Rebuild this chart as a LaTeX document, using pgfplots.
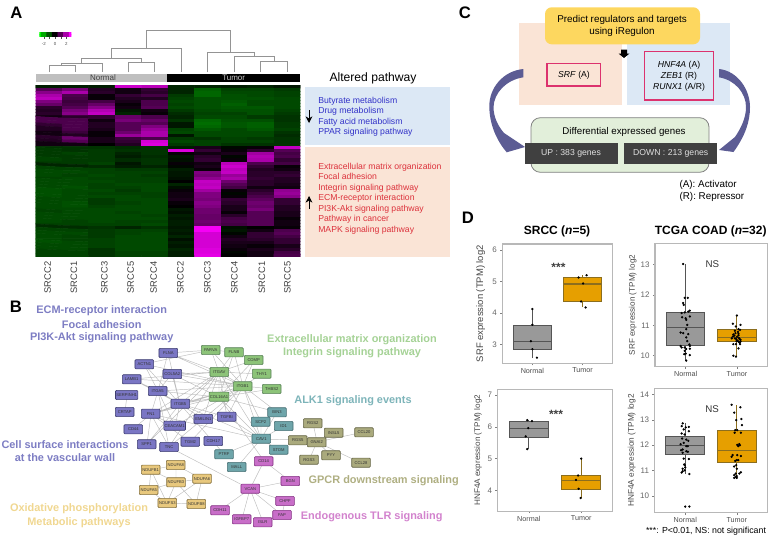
\documentclass[border=0pt]{standalone}
\usepackage{fontspec}
\setmainfont{Liberation Sans}
\usepackage{pgfplots}
\pgfplotsset{compat=1.18}
\usepgfplotslibrary{statistics}
\usetikzlibrary{arrows.meta}
\definecolor{cPurple}{RGB}{122,118,196}\definecolor{dPurple}{RGB}{60,60,110}
\definecolor{cGreen}{RGB}{140,195,120}\definecolor{dGreen}{RGB}{90,130,90}
\definecolor{cTeal}{RGB}{110,165,170}\definecolor{dTeal}{RGB}{70,110,115}
\definecolor{cOlive}{RGB}{170,170,125}\definecolor{dOlive}{RGB}{100,100,70}
\definecolor{cPink}{RGB}{200,110,200}\definecolor{dPink}{RGB}{130,50,130}
\definecolor{cYellow}{RGB}{232,200,125}\definecolor{dYellow}{RGB}{130,110,60}
\definecolor{tPurple}{RGB}{125,125,195}\definecolor{tGreen}{RGB}{165,210,150}
\definecolor{tTeal}{RGB}{125,180,185}\definecolor{tOlive}{RGB}{175,175,130}
\definecolor{tPink}{RGB}{210,130,205}\definecolor{tYellow}{RGB}{240,215,145}
\definecolor{boxBlue}{RGB}{220,232,245}\definecolor{boxRed}{RGB}{250,228,214}
\definecolor{txtBlue}{RGB}{50,50,200}\definecolor{txtRed}{RGB}{220,50,60}
\definecolor{yel}{RGB}{253,215,95}\definecolor{pinkline}{RGB}{220,50,110}
\definecolor{gbox}{RGB}{226,239,218}\definecolor{dark}{RGB}{64,64,64}
\definecolor{arrowc}{RGB}{92,92,148}\definecolor{tumor}{RGB}{230,159,0}\definecolor{tumord}{RGB}{140,110,30}
\definecolor{normalc}{RGB}{153,153,153}\definecolor{normald}{RGB}{85,85,85}
\newcommand\fs[1]{\fontsize{#1}{#1}\selectfont}
\pgfplotsset{
 /pgfplots/colormap={gk}{rgb255=(0,255,0) rgb255=(0,0,0) rgb255=(255,0,255)},
 /pgfplots/colormap={gm}{rgb255(0cm)=(0,255,0) rgb255(35cm)=(0,0,0) rgb255(65cm)=(255,0,255)},
 netnode/.style 2 args={only marks, mark=none, point meta=explicit symbolic, nodes near coords,
  nodes near coords style={anchor=center, fill=#1, draw=#2, line width=.5pt, rounded corners=.7pt,
   minimum width=14pt, minimum height=6.9pt, inner sep=.6pt, font=\fs{3.1}, text=black!80}},
 bx/.style={scale only axis, xmin=0.4, xmax=2.6, xtick={1,2}, xticklabels={Normal,Tumor},
  axis line style={draw=black!28, line width=.8pt}, tick style={draw=black!50, line width=.4pt},
  tick align=outside, tickwidth=1.5pt, xtick pos=bottom, ytick pos=left,
  /pgf/number format/assume math mode=true,
  x tick label style={font=\fs{5.4}, text=black!70, yshift=1.5pt},
  y tick label style={font=\fs{6}, text=black!60, xshift=1pt},
  boxplot/draw direction=y, boxplot/box extend=0.75, boxplot/whisker extend=0,
  boxplot/every median/.style={line width=.9pt}},
 nbox/.style={draw=normald, fill=normalc, line width=.7pt},
 tbox/.style={draw=tumord, fill=tumor, line width=.7pt},
 pts/.style={only marks, mark=*, mark size=.65pt, black, mark options={draw=black, fill=black}},
}
\tikzset{bt/.style={font=\fs{6.5}, text=txtBlue, anchor=west, inner sep=0, text height=5pt, text depth=1.4pt},
 rt/.style={font=\fs{6.5}, text=txtRed, anchor=west, inner sep=0, text height=5pt, text depth=1.4pt},
 cl/.style={font=\fs{7}, text=black!75, rotate=90}}
\begin{document}
\begin{tikzpicture}
\useasboundingbox (0,0) rectangle (577.5pt,-403.5pt);
% overlay axis in pixel coordinates
\begin{axis}[at={(0pt,0pt)}, anchor=north west, scale only axis, width=577.5pt, height=403.5pt,
 xmin=0, xmax=770, ymin=0, ymax=538, y dir=reverse, hide axis, clip=false]
% --- panel letters
\node[font=\fs{12.5}\bfseries] at (16.5,13) {A};
\node[font=\fs{12.5}\bfseries] at (16,307) {B};
\node[font=\fs{12.5}\bfseries] at (465,13) {C};
\node[font=\fs{12.5}\bfseries] at (468,218) {D};
% --- dendrogram
\addplot[draw=black!42, line width=.6pt, unbounded coords=jump] coordinates {
(146,48.3)(146,30.3)(230.7,30.3)(230.7,52.3)(nan,nan)
(111.3,58.3)(111.3,48.3)(181.3,48.3)(181.3,72.3)(nan,nan)
(207.3,72.3)(207.3,52.3)(254.3,52.3)(254.3,56.3)(nan,nan)
(81.7,63.3)(81.7,58.3)(141.7,58.3)(141.7,62.7)(nan,nan)
(234,72.3)(234,56.3)(274.3,56.3)(274.3,61)(nan,nan)
(61.7,65.3)(61.7,63.3)(102.3,63.3)(102.3,72.3)(nan,nan)
(49,72.3)(49,65.3)(75.7,65.3)(75.7,72.3)(nan,nan)
(128.3,72.3)(128.3,62.7)(154.7,62.7)(154.7,72.3)(nan,nan)
(260.3,72.3)(260.3,61)(287.3,61)(287.3,72.3)
};
% --- annotation bars
\fill[black!25] (35.7,73.7) rectangle (167.3,82.3);
\fill[black] (167.3,73.7) rectangle (300.3,82.3);
\node[font=\fs{6}, text=black!75] at (103,78) {Normal};
\node[font=\fs{6}, text=black!20] at (233.7,78) {Tumor};
% --- altered pathway
\node[font=\fs{9.1}] at (373,78) {Altered pathway};
\fill[boxBlue] (305,87) rectangle (450,145);
\fill[boxRed] (305,147) rectangle (450,257);
\node[bt] at (318,100.7) {Butyrate metabolism};
\node[bt] at (318,111.3) {Drug metabolism};
\node[bt] at (318,122) {Fatty acid metabolism};
\node[bt] at (318,132.5) {PPAR signaling pathway};
\node[rt] at (318,166.7) {Extracellular matrix organization};
\node[rt] at (318,177) {Focal adhesion};
\node[rt] at (318,187.6) {Integrin signaling pathway};
\node[rt] at (318,198) {ECM-receptor interaction};
\node[rt] at (318,208.7) {PI3K-Akt signaling pathway};
\node[rt] at (318,219) {Pathway in cancer};
\node[rt] at (318,229.7) {MAPK signaling pathway};
\draw[-{Stealth[length=5pt,width=5pt]}, line width=.5pt] (309,110) -- (309,123);
\draw[-{Stealth[length=5pt,width=5pt]}, line width=.5pt] (309,209) -- (309,196);
% --- column labels
\node[cl] at (47.7,277.5) {SRCC2};
\node[cl] at (74,277.5) {SRCC1};
\node[cl] at (104.3,277.5) {SRCC3};
\node[cl] at (130.7,277.5) {SRCC5};
\node[cl] at (153.7,277.5) {SRCC4};
\node[cl] at (180.3,277.5) {SRCC2};
\node[cl] at (207.3,277.5) {SRCC3};
\node[cl] at (234.3,277.5) {SRCC4};
\node[cl] at (262,277.5) {SRCC1};
\node[cl] at (287.3,277.5) {SRCC5};
% --- panel C
\fill[boxRed] (519.3,23) rectangle (622.3,105);
\fill[boxBlue] (627,23) rectangle (730,105);
\fill[yel, rounded corners=5pt] (545,7.3) rectangle (700,44.3);
\node[font=\fs{7.4}] at (622,20) {Predict regulators and targets};
\node[font=\fs{7.4}] at (622,32) {using iRegulon};
\fill[black] (621,49.5)--(627,49.5)--(627,53.5)--(629.5,53.5)--(624,58)--(618.5,53.5)--(621,53.5)--cycle;
\draw[pinkline, line width=.8pt] (547,63.3) rectangle (600.3,86);
\node[font=\fs{6.5}] at (574,75) {\textit{SRF} (A)};
\draw[pinkline, line width=.8pt] (644.3,51.7) rectangle (713.7,100);
\node[font=\fs{6.5}] at (679,65) {\textit{HNF4A} (A)};
\node[font=\fs{6.5}] at (679,76) {\textit{ZEB1} (R)};
\node[font=\fs{6.5}] at (679,87) {\textit{RUNX1} (A/R)};
\filldraw[fill=gbox, draw=black!50, rounded corners=7pt, line width=.6pt] (531,117.7) rectangle (709,172.3);
\node[font=\fs{7.3}] at (624,132) {Differential expressed genes};
\fill[dark] (525.3,142.7) rectangle (617.7,164.3);
\fill[dark] (624.3,142.7) rectangle (716.7,164.3);
\node[font=\fs{6.5}, text=black!12] at (571,153.5) {UP : 383 genes};
\node[font=\fs{6.5}, text=black!12] at (670.7,153.5) {DOWN : 213 genes};
\fill[arrowc] (523.3,69) .. controls (503,71) and (489,88) .. (489.3,106.7)
 .. controls (489.5,125) and (497,141) .. (506.7,152.3) -- (525,147) -- (504,133)
 .. controls (498,126) and (493.5,117) .. (493.5,107) .. controls (494,93) and (506,80) .. (523.3,77.3) -- cycle;
\fill[arrowc] (719,69) .. controls (738,71) and (750,90) .. (750,107)
 .. controls (750,122) and (745,136) .. (733.5,152) -- (719,150) -- (735,137)
 .. controls (741,128) and (746,118) .. (746,107) .. controls (746,93) and (735,80) .. (719,77.3) -- cycle;
\node[font=\fs{7.4}, anchor=west, inner sep=0] at (679.3,185) {(A): Activator};
\node[font=\fs{7.4}, anchor=west, inner sep=0] at (679.3,197.3) {(R): Repressor};
% --- panel B labels
\begin{scope}[every node/.style={font=\fs{8.2}\bfseries}]
\node[text=tPurple] at (101.7,311) {ECM-receptor interaction};
\node[text=tPurple] at (101.7,324.3) {Focal adhesion};
\node[text=tPurple] at (101.7,337.7) {PI3K-Akt signaling pathway};
\node[text=tPurple] at (65,444.3) {Cell surface interactions};
\node[text=tPurple] at (65,457.7) {at the vascular wall};
\node[text=tYellow] at (79,509) {Oxidative phosphorylation};
\node[text=tYellow] at (79,522.3) {Metabolic pathways};
\node[text=tGreen] at (352,339.7) {Extracellular matrix organization};
\node[text=tGreen] at (352,353) {Integrin signaling pathway};
\node[text=tTeal] at (353,400.3) {ALK1 signaling events};
\node[text=tOlive] at (383.7,481) {GPCR downstream signaling};
\node[text=tPink] at (371.7,516.3) {Endogenous TLR signaling};
\end{scope}
% --- network edges
\addplot[draw=black!25, line width=.35pt, unbounded coords=jump] coordinates {
(168,353)(243,386)(nan,nan)(168,353)(158,391)(nan,nan)(168,353)(180,404)(nan,nan)(168,353)(219,372)(nan,nan)(168,353)(211,350)(nan,nan)
(144,364)(243,386)(nan,nan)(144,364)(180,404)(nan,nan)(144,364)(211,350)(nan,nan)(144,364)(158,391)(nan,nan)
(172,374)(243,386)(nan,nan)(172,374)(180,404)(nan,nan)(172,374)(158,391)(nan,nan)(172,374)(219,372)(nan,nan)(172,374)(219,397)(nan,nan)
(132,379)(180,404)(nan,nan)(132,379)(243,386)(nan,nan)(132,379)(158,391)(nan,nan)(132,379)(219,372)(nan,nan)
(158,391)(151,414)(nan,nan)(158,391)(180,404)(nan,nan)(158,391)(243,386)(nan,nan)(158,391)(219,397)(nan,nan)(158,391)(175,426)(nan,nan)
(180,404)(151,414)(nan,nan)(180,404)(219,372)(nan,nan)(180,404)(219,397)(nan,nan)(180,404)(175,426)(nan,nan)(180,404)(203,419)(nan,nan)
(180,404)(227,417)(nan,nan)(180,404)(261,439)(nan,nan)(180,404)(243,386)(nan,nan)(125,412)(127,395)(nan,nan)
(151,414)(133,429)(nan,nan)(151,414)(147,444)(nan,nan)(151,414)(169,447)(nan,nan)(151,414)(243,386)(nan,nan)(151,414)(219,372)(nan,nan)
(151,414)(190,442)(nan,nan)(151,414)(175,426)(nan,nan)(151,414)(261,439)(nan,nan)(151,414)(219,397)(nan,nan)
(175,426)(243,386)(nan,nan)(147,444)(180,404)(nan,nan)(147,444)(219,372)(nan,nan)(169,447)(158,391)(nan,nan)(169,447)(243,386)(nan,nan)
(169,447)(219,372)(nan,nan)(169,447)(250,489)(nan,nan)(190,442)(243,386)(nan,nan)(203,419)(243,386)(nan,nan)(203,419)(219,372)(nan,nan)
(227,417)(243,386)(nan,nan)(227,417)(219,372)(nan,nan)(211,350)(243,386)(nan,nan)(211,350)(219,372)(nan,nan)(211,350)(234,352)(nan,nan)
(234,352)(243,386)(nan,nan)(234,352)(219,372)(nan,nan)(234,352)(219,397)(nan,nan)(254,360)(243,386)(nan,nan)(254,360)(219,372)(nan,nan)
(254,360)(219,397)(nan,nan)(262,374)(243,386)(nan,nan)(272,389)(243,386)(nan,nan)(272,389)(219,397)(nan,nan)(262,374)(219,372)(nan,nan)
(243,386)(219,372)(nan,nan)(243,386)(219,397)(nan,nan)(219,372)(219,397)(nan,nan)(243,386)(261,439)(nan,nan)(219,372)(261,439)(nan,nan)
(219,397)(261,439)(nan,nan)(243,386)(261,422)(nan,nan)(243,386)(277,412)(nan,nan)(219,397)(277,412)(nan,nan)
(261,439)(261,422)(nan,nan)(261,439)(277,412)(nan,nan)(261,439)(284,426)(nan,nan)(261,439)(279,450)(nan,nan)(261,439)(237,467)(nan,nan)
(261,439)(224,454)(nan,nan)(261,439)(298,440)(nan,nan)(261,439)(227,417)(nan,nan)(224,454)(180,404)(nan,nan)
(264,461)(250,489)(nan,nan)(290,481)(250,489)(nan,nan)(285,501)(250,489)(nan,nan)(282,515)(250,489)(nan,nan)(263,522)(250,489)(nan,nan)
(242,519)(250,489)(nan,nan)(220,510)(250,489)(nan,nan)(285,501)(282,515)(nan,nan)(264,461)(219,397)(nan,nan)(264,461)(290,481)(nan,nan)
(313,423)(317,442)(nan,nan)(334,433)(317,442)(nan,nan)(364,432)(317,442)(nan,nan)(298,440)(317,442)(nan,nan)(309,460)(317,442)(nan,nan)
(331,455)(317,442)(nan,nan)(361,463)(317,442)(nan,nan)
(151,470)(176,465)(nan,nan)(151,470)(176,482)(nan,nan)(151,470)(149,490)(nan,nan)(151,470)(167,503)(nan,nan)(176,465)(176,482)(nan,nan)
(176,465)(202,479)(nan,nan)(176,482)(202,479)(nan,nan)(176,482)(149,490)(nan,nan)(176,482)(167,503)(nan,nan)(176,482)(196,504)(nan,nan)
(202,479)(196,504)(nan,nan)(149,490)(167,503)(nan,nan)(167,503)(196,504)(nan,nan)(202,479)(167,503)
};
% --- network nodes
\addplot[netnode={cPurple}{dPurple}] table[meta=label] {
x y label
168.3 353 FLNA
144.3 364.3 ACTN1
172.3 374 COL5A2
131.7 379.3 LAMB1
157.7 391 ITGA5
126.7 395 SERPINH1
180.3 403.7 ITGB5
124.7 412 CRTAP
150.7 413.7 FN1
133.3 429.3 CD44
174.7 425.7 CEACAM1
203.3 419 EMILIN1
226.7 416.7 TGFBI
146.7 444.3 SPP1
169 447 TNC
190.3 441.7 TGM2
213.3 441 CDH17
};
\addplot[netnode={cGreen}{dGreen}] table[meta=label] {
x y label
210.7 350 PARVA
234 352.3 FLNB
253.7 360 COMP
261.7 373.7 THY1
242.7 386.3 ITGB1
271.7 389 THBS2
219.3 372 ITGAV
219 396.7 COL16A1
};
\addplot[netnode={cTeal}{dTeal}] table[meta=label] {
x y label
224 454.3 PTRF
236.7 467 MALL
261.3 438.7 CAV1
260.7 421.7 SCP2
277 412.3 BIN3
283.7 426 ID1
278.7 449.7 STOM
};
\addplot[netnode={cOlive}{dOlive}] table[meta=label] {
x y label
312.7 423.3 RGS2
333.7 432.7 INSL5
364 432.3 CCL20
297.7 440.3 RGS5
316.7 442.3 GNAI2
309 459.7 RGS3
331 455.3 PYY
361 462.7 CCL28
};
\addplot[netnode={cPink}{dPink}] table[meta=label] {
x y label
263.7 461.3 CD14
290.3 481 BGN
250.3 488.7 VCAN
285 501 CHPF
282 515 FAP
262.7 522.3 ISLR
241.7 519.3 IGFBP7
220 510.3 CDH11
};
\addplot[netnode={cYellow}{dYellow}] table[meta=label] {
x y label
150.7 469.7 NDUFB1
175.7 465 NDUFA8
176 482.3 NDUFB3
148.7 490 NDUFA5
202 478.7 NDUFA6
167.3 503 NDUFS3
196.3 504 NDUFB8
};
\node[font=\fs{6.6}] at (706,531.7) {***: P<0.01, NS: not significant};
\node[font=\fs{9}\bfseries] at (557,231.7) {SRCC (\textit{n}=5)};
\node[font=\fs{9}\bfseries] at (710.7,231.7) {TCGA COAD (\textit{n}=32)};
\end{axis}
% colour key
\begin{axis}[at={(29.5pt,-24.75pt)}, anchor=north west, scale only axis, width=24pt, height=2.8pt,
 xmin=-2.8, xmax=2.9, ymin=0, ymax=1, colormap name=gk, point meta min=-3, point meta max=3,
 axis line style={draw=none}, ytick=\empty, xtick={-2,-1,0,1,2}, xticklabels={-2,,0,,2},
 tick style={draw=black!70, line width=.2pt}, tick align=outside, tickwidth=1.5pt, xtick pos=bottom,
 /pgf/number format/assume math mode=true, x tick label style={font=\fs{3.3}, text=black!70, yshift=1pt}]
\addplot[matrix plot*, mesh/cols=7, point meta=x] coordinates {
(-3,0)(-2,0)(-1,0)(0,0)(1,0)(2,0)(3,0)
(-3,1)(-2,1)(-1,1)(0,1)(1,1)(2,1)(3,1)};
\end{axis}
% heatmap
\begin{axis}[at={(26.75pt,-63.75pt)}, anchor=north west, scale only axis, width=198.6pt, height=129pt,
 xmin=-0.5, xmax=9.5, ymin=-0.5, ymax=55.5, y dir=reverse, hide axis, colormap name=gm,
 point meta min=-3.5, point meta max=3]
\addplot[matrix plot*, mesh/cols=10, point meta=explicit] table[row sep=\\, header=false,
 x expr={mod(\coordindex,10)}, y expr={floor(\coordindex/10)}, meta index=0] {
-0.4\\-0.4\\-0.4\\2.4\\2.2\\-0.5\\-0.5\\-0.4\\-0.5\\-0.3\\
1.0\\1.4\\0.4\\0.2\\0.6\\-0.5\\-1.3\\-0.9\\-0.9\\-0.8\\
1.6\\2.0\\0.5\\0.2\\0.5\\-0.5\\-1.4\\-1.0\\-1.0\\-0.9\\
2.0\\0.9\\0.1\\0.6\\0.8\\-0.8\\-1.4\\-1.1\\-1.0\\-0.9\\
2.2\\0.8\\0.1\\0.4\\0.4\\-0.9\\-1.1\\-1.1\\-1.1\\-1.0\\
1.5\\0.7\\0.8\\0.3\\0.9\\-1.0\\-1.1\\-1.2\\-1.0\\-1.0\\
1.2\\0.8\\1.2\\0.1\\0.9\\-0.9\\-1.1\\-1.3\\-1.0\\-1.0\\
0.5\\1.0\\1.6\\0.2\\1.0\\-1.0\\-1.1\\-1.2\\-1.2\\-1.0\\
0.4\\1.4\\2.1\\-0.3\\0.2\\-0.8\\-1.0\\-1.1\\-1.1\\-0.9\\
0.5\\1.6\\2.3\\-0.5\\0.1\\-0.6\\-0.9\\-0.9\\-1.1\\-0.8\\
0.2\\0.5\\0.6\\1.2\\0.9\\-0.5\\-1.0\\-1.0\\-0.8\\-0.7\\
0.9\\0.9\\0.2\\1.4\\1.2\\-0.7\\-1.4\\-1.1\\-1.1\\-0.7\\
0.9\\0.9\\0.4\\1.0\\1.0\\-0.3\\-1.5\\-1.2\\-1.3\\-0.8\\
0.6\\0.9\\0.4\\1.0\\1.5\\-0.3\\-1.4\\-1.2\\-1.3\\-0.8\\
0.4\\0.9\\0.3\\1.0\\1.8\\-0.9\\-1.2\\-1.0\\-1.2\\-0.9\\
0.2\\0.7\\0.1\\1.3\\2.0\\-1.0\\-1.0\\-1.0\\-1.0\\-0.7\\
0.2\\0.4\\0.1\\1.8\\2.0\\-0.3\\-1.0\\-1.0\\-1.0\\-0.6\\
0.5\\1.3\\0.3\\0.7\\0.9\\-0.8\\-0.7\\-0.9\\-0.8\\-0.7\\
0.4\\1.0\\0.3\\0.6\\2.5\\-1.0\\-0.9\\-0.9\\-0.9\\-0.7\\
0.2\\0.2\\0.0\\0.4\\2.6\\-0.8\\-0.9\\-0.7\\-0.7\\-0.7\\
-0.7\\-0.7\\-0.7\\-0.6\\-0.7\\-0.4\\0.3\\-0.1\\0.1\\2.3\\
-0.8\\-0.7\\-0.8\\-0.7\\-0.7\\2.6\\0.6\\0.1\\0.5\\1.0\\
-0.8\\-0.9\\-0.8\\-0.5\\-0.7\\0.1\\0.2\\0.3\\1.9\\0.8\\
-0.8\\-0.8\\-0.8\\-0.4\\-0.6\\-0.3\\0.5\\-0.1\\2.1\\0.9\\
-0.9\\-0.8\\-0.8\\-0.6\\-0.7\\-0.2\\0.6\\0.1\\2.0\\0.6\\
-0.8\\-0.8\\-0.9\\-0.3\\-0.7\\0.1\\0.2\\2.2\\0.9\\0.8\\
-0.5\\-0.5\\-0.6\\-0.4\\-0.5\\-0.1\\0.3\\2.4\\0.6\\0.1\\
-0.9\\-0.9\\-0.9\\-0.8\\-0.8\\-0.4\\0.1\\2.2\\0.4\\0.2\\
-1.0\\-1.0\\-0.9\\-0.9\\-0.9\\-0.3\\1.5\\2.3\\0.5\\0.5\\
-1.0\\-0.9\\-1.0\\-0.9\\-0.8\\-0.3\\1.4\\1.8\\0.5\\0.6\\
-0.9\\-1.0\\-0.9\\-0.9\\-0.9\\-0.2\\1.7\\2.0\\0.6\\0.4\\
-1.0\\-1.0\\-1.0\\-0.9\\-0.9\\0.0\\2.3\\1.3\\0.5\\0.4\\
-1.0\\-1.0\\-0.9\\-1.0\\-1.0\\-0.5\\2.2\\1.0\\0.5\\0.3\\
-1.0\\-1.1\\-0.9\\-0.9\\-1.0\\-0.2\\2.3\\0.8\\0.2\\0.2\\
-1.1\\-1.0\\-1.0\\-0.8\\-1.0\\0.1\\1.9\\0.1\\0.5\\1.7\\
-1.1\\-1.0\\-0.9\\-0.9\\-0.9\\0.2\\1.5\\-0.1\\0.7\\1.8\\
-1.1\\-1.0\\-1.0\\-1.0\\-0.9\\0.2\\1.5\\0.1\\0.9\\1.6\\
-1.0\\-1.0\\-0.8\\-1.0\\-1.0\\0.3\\1.4\\0.6\\1.1\\0.6\\
-1.0\\-1.1\\-0.8\\-0.9\\-1.0\\0.1\\1.6\\0.5\\1.3\\0.6\\
-1.0\\-1.1\\-0.9\\-1.0\\-1.0\\0.0\\1.5\\0.3\\1.2\\0.4\\
-1.0\\-1.0\\-1.0\\-1.0\\-1.0\\-0.3\\1.3\\0.3\\1.4\\0.4\\
-0.9\\-1.0\\-1.0\\-0.9\\-1.0\\-0.2\\1.3\\0.1\\1.0\\0.3\\
-1.0\\-1.0\\-1.0\\-1.0\\-0.9\\-0.4\\1.2\\0.5\\1.0\\0.3\\
-1.0\\-1.0\\-1.0\\-1.0\\-1.0\\-0.3\\1.2\\0.8\\1.0\\0.1\\
-1.0\\-0.9\\-1.0\\-0.9\\-0.9\\-0.4\\1.3\\0.9\\1.0\\0.2\\
-0.9\\-0.9\\-0.9\\-0.9\\-1.0\\-0.4\\1.2\\0.8\\1.0\\0.2\\
-0.6\\-0.6\\-0.7\\-0.5\\-0.7\\-0.3\\2.9\\-0.2\\0.0\\0.1\\
-0.9\\-0.9\\-0.8\\-0.9\\-0.9\\-0.4\\2.9\\-0.3\\0.2\\0.9\\
-1.0\\-1.0\\-0.8\\-0.9\\-1.0\\-0.3\\2.5\\-0.1\\0.6\\1.0\\
-1.0\\-0.9\\-0.8\\-1.0\\-1.0\\-0.5\\2.5\\0.2\\0.6\\0.8\\
-1.0\\-0.9\\-0.9\\-1.0\\-1.0\\-0.2\\2.5\\0.4\\0.5\\0.6\\
-1.1\\-1.0\\-0.9\\-1.0\\-1.0\\-0.4\\2.5\\0.3\\0.3\\0.6\\
-1.0\\-1.0\\-0.9\\-1.0\\-1.0\\-0.3\\2.5\\0.2\\0.1\\0.3\\
-1.0\\-1.0\\-0.7\\-1.0\\-1.0\\-0.5\\2.6\\0.1\\0.3\\0.5\\
-0.9\\-0.9\\-0.7\\-0.9\\-0.9\\-0.4\\2.6\\-0.1\\0.2\\0.8\\
-0.9\\-0.9\\-0.7\\-0.9\\-0.9\\-0.4\\2.7\\0.0\\0.2\\0.9\\
};
\end{axis}
% D1
\begin{axis}[bx, at={(376.7pt,-183pt)}, anchor=north west, width=82.8pt, height=89.5pt,
 ymin=2.41, ymax=6.19, ytick={3,4,5,6}, ylabel={SRF expression (TPM) log2},
 ylabel style={at={(axis description cs:-0.196,0.5)}, anchor=center, font=\fs{7.1}, text=black!72}]
\addplot[nbox, boxplot prepared={draw position=1, lower whisker=2.57, lower quartile=2.85, median=3.11, upper quartile=3.62, upper whisker=4.13}] coordinates {};
\addplot[tbox, boxplot prepared={draw position=2, lower whisker=4.18, lower quartile=4.36, median=4.92, upper quartile=5.13, upper whisker=5.2}] coordinates {};
\addplot[pts] coordinates {(1,4.13)(1,3.63)(0.97,3.11)(1,2.86)(1.09,2.59)(1.92,5.13)(2.08,5.2)(2.01,4.94)(1.97,4.37)(2.06,4.18)};
\node[font=\fs{9}\bfseries, text=black!75] at (axis cs:1.52,5.45) {***};
\end{axis}
% D2
\begin{axis}[bx, at={(491.25pt,-182.5pt)}, anchor=north west, width=84.5pt, height=92.5pt,
 ymin=9.64, ymax=13.69, ytick={10,11,12,13}, ylabel={SRF expression (TPM) log2},
 ylabel style={at={(axis description cs:-0.198,0.5)}, anchor=center, font=\fs{6.1}, text=black!72}]
\addplot[nbox, boxplot prepared={draw position=1, lower whisker=9.84, lower quartile=10.33, median=10.93, upper quartile=11.43, upper whisker=13.0}] coordinates {};
\addplot[tbox, boxplot prepared={draw position=2, lower whisker=9.97, lower quartile=10.46, median=10.6, upper quartile=10.85, upper whisker=11.32}] coordinates {};
\addplot[pts] coordinates {(0.95,13.01)(0.98,11.9)(1.04,11.9)(0.95,11.73)(0.96,11.67)(1.05,11.45)(1.08,11.48)(0.98,11.42)(0.92,11.4)(0.93,11.26)(1,11.23)(1.08,11.29)(1.01,11.18)(1.03,11.01)(1.01,10.87)(0.9,10.76)(0.95,10.74)(1.05,10.71)(1.01,10.6)(1.03,10.48)(1.07,10.37)(0.9,10.32)(0.98,10.27)(1.08,10.32)(1.01,10.22)(1.08,10.23)(0.97,10.05)(1,10.07)(1.08,10.02)(1.01,9.84)(0.98,10.16)(0.92,10.27)
(2,11.32)(2.07,11.01)(1.92,11.05)(1.98,10.96)(1.96,10.82)(2.03,10.87)(2.06,10.85)(1.93,10.7)(1.92,10.63)(2.03,10.67)(1.96,10.57)(1.99,10.54)(2.07,10.52)(2.01,10.49)(1.9,10.57)(2.07,10.46)(2.05,10.43)(1.98,10.38)(1.93,10.38)(2.06,10.38)(2.03,10.46)(2.03,10.24)(1.93,10)(1.98,9.97)(2,10.62)(2.04,10.58)(1.97,10.74)(2.02,10.78)(1.95,10.66)(2.05,10.55)(1.99,10.48)(2.03,10.72)};
\node[font=\fs{7.3}, text=black!80] at (axis cs:1.52,13) {NS};
\end{axis}
% D3
\begin{axis}[bx, at={(373pt,-292pt)}, anchor=north west, width=86.5pt, height=91.3pt,
 ymin=3.35, ymax=7.18, ytick={4,5,6,7}, ylabel={HNF4A expression (TPM) log2},
 ylabel style={at={(axis description cs:-0.167,0.5)}, anchor=center, font=\fs{6.1}, text=black!72}]
\addplot[nbox, boxplot prepared={draw position=1, lower whisker=5.3, lower quartile=5.67, median=5.95, upper quartile=6.18, upper whisker=6.2}] coordinates {};
\addplot[tbox, boxplot prepared={draw position=2, lower whisker=3.75, lower quartile=4.04, median=4.31, upper quartile=4.47, upper whisker=5.0}] coordinates {};
\addplot[pts] coordinates {(0.97,6.21)(1.06,6.18)(0.99,5.96)(0.94,5.7)(0.97,5.3)(2,5)(1.94,4.47)(1.9,4.33)(1.95,4.05)(1.99,3.76)};
\node[font=\fs{9}\bfseries, text=black!75] at (axis cs:1.52,6.4) {***};
\end{axis}
% D4
\begin{axis}[bx, at={(490.75pt,-291.25pt)}, anchor=north west, width=85pt, height=93.4pt,
 ymin=9.33, ymax=14.24, ytick={10,11,12,13,14}, ylabel={HNF4A expression (TPM) log2},
 ylabel style={at={(axis description cs:-0.199,0.5)}, anchor=center, font=\fs{6.2}, text=black!72}]
\addplot[nbox, boxplot prepared={draw position=1, lower whisker=10.88, lower quartile=11.63, median=12.0, upper quartile=12.36, upper whisker=12.86}] coordinates {};
\addplot[tbox, boxplot prepared={draw position=2, lower whisker=10.68, lower quartile=11.32, median=11.8, upper quartile=12.57, upper whisker=13.59}] coordinates {};
\addplot[pts] coordinates {(0.95,12.86)(0.93,12.75)(1.01,12.7)(1.07,12.72)(0.97,12.62)(1.07,12.55)(0.93,12.46)(0.99,12.42)(0.94,12.26)(1.02,12.22)(1.06,12.17)(0.91,12.04)(0.97,12.09)(1.02,11.96)(1.05,11.96)(0.92,11.8)(0.95,11.83)(1.02,11.76)(0.95,11.7)(1.05,11.74)(0.97,11.47)(1.07,11.45)(0.99,11.21)(1,11.12)(0.95,11.07)(0.93,10.92)(1.08,10.86)(0.99,11.01)(0.95,10.97)(1,9.58)(1.08,9.58)(0.98,11.24)
(1.9,13.59)(2.07,13.49)(1.95,13.28)(1.99,12.99)(2.09,13.03)(2.1,12.79)(1.97,12.59)(2.01,12.59)(1.96,12.49)(2.08,12.49)(2.01,12.01)(2.05,12.04)(2.06,12)(2.03,11.96)(1.92,11.61)(1.9,11.54)(2.01,11.61)(2.08,11.57)(2,11.41)(1.97,11.38)(2.03,11.41)(1.99,11.21)(1.95,11.16)(2,11.07)(2.05,10.88)(1.98,10.88)(1.95,10.82)(1.98,10.75)(2,10.78)(1.95,10.71)(2,10.71)(2.08,10.93)};
\node[font=\fs{7.3}, text=black!80] at (axis cs:1.52,13.4) {NS};
\end{axis}
\end{tikzpicture}
\end{document}
